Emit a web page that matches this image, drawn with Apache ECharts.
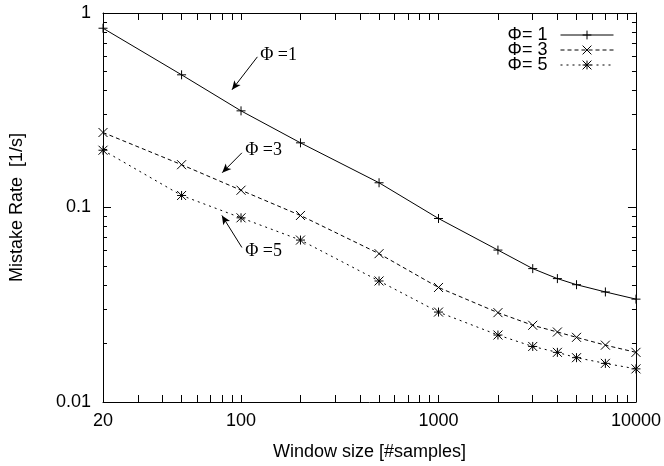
<!DOCTYPE html>
<html>
<head>
<meta charset="utf-8">
<script src="https://cdn.jsdelivr.net/npm/echarts@6/dist/echarts.min.js"></script>
<style>
  html, body { margin: 0; padding: 0; background: #fff; }
  #main { width: 664px; height: 466px; }
</style>
</head>
<body>
<div id="main"></div>
<script>
// window sizes [#samples]
const windowSizes = [20, 50, 100, 200, 500, 1000, 2000, 3000, 4000, 5000, 7000, 10000];
// mistake rate [1/s] per phi
const phi1 = [0.835, 0.481, 0.314, 0.215, 0.134, 0.0878, 0.0604, 0.0485, 0.0431, 0.0401, 0.0368, 0.0338];
const phi3 = [0.243, 0.166, 0.1227, 0.091, 0.0579, 0.0388, 0.0288, 0.0248, 0.0229, 0.0215, 0.0196, 0.018];
const phi5 = [0.197, 0.1153, 0.0885, 0.068, 0.0419, 0.029, 0.0221, 0.0193, 0.018, 0.0169, 0.0158, 0.0148];

const seriesNames = ['Φ= 1', 'Φ= 3', 'Φ= 5'];
const noteTexts = ['Φ =1', 'Φ =3', 'Φ =5'];

// tick labels / tick positions
const xLabelValues = [20, 100, 1000, 10000];
const xTickValues = [20, 30, 40, 50, 60, 70, 80, 90, 100,
  200, 300, 400, 500, 600, 700, 800, 900, 1000,
  2000, 3000, 4000, 5000, 6000, 7000, 8000, 9000, 10000];
const yMajorValues = [0.01, 0.1, 1];
const yMinorValues = [0.02, 0.03, 0.04, 0.05, 0.06, 0.07, 0.08, 0.09,
  0.2, 0.3, 0.4, 0.5, 0.6, 0.7, 0.8, 0.9];

const SANS = 'Liberation Sans';
const SERIF = 'Liberation Serif';

// gnuplot style point types
const PLUS = 'path://M5,0 L5,10 M0,5 L10,5';
const CROSS = 'path://M0,0 L10,10 M10,0 L0,10';
const STAR = 'path://M5,0 L5,10 M0,5 L10,5 M0,0 L10,10 M10,0 L0,10';

function pairs(ys) {
  return windowSizes.map((x, i) => [x, ys[i]]);
}

function fmt(v) {
  return String(+(+v).toPrecision(6));
}

// arrow + text annotation, placed in data coordinates
function note(text, textAt, from, to) {
  return {
    markLine: {
      silent: true,
      symbol: ['none', 'arrow'],
      symbolSize: [6, 9],
      lineStyle: { color: '#000', width: 1, type: 'solid' },
      label: { show: false },
      data: [[{ coord: from }, { coord: to }]]
    },
    markPoint: {
      silent: true,
      symbol: 'circle',
      symbolSize: 0,
      label: {
        show: true, position: 'right', distance: 0, formatter: text,
        fontFamily: SERIF, fontSize: 18, color: '#000'
      },
      data: [{ coord: textAt }]
    }
  };
}

function xAxisOf(pos, show) {
  return {
    type: 'log', logBase: 10, min: 20, max: 10000, position: pos,
    axisLine: { show: true, lineStyle: { color: '#000', width: 1 } },
    axisTick: { show: true, inside: true, length: 7, customValues: xTickValues, lineStyle: { color: '#000' } },
    axisLabel: {
      show: show, customValues: xLabelValues, formatter: fmt, margin: 10,
      fontFamily: SANS, fontSize: 18, color: '#000'
    },
    splitLine: { show: false },
    name: show ? 'Window size [#samples]' : '',
    nameLocation: 'middle', nameGap: 41,
    nameTextStyle: { fontFamily: SANS, fontSize: 18, color: '#000' }
  };
}

function yAxisOf(pos, major, show) {
  return {
    type: 'log', logBase: 10, min: 0.01, max: 1, position: pos,
    axisLine: { show: major, lineStyle: { color: '#000', width: 1 } },
    axisTick: {
      show: true, inside: true, length: major ? 8 : 4,
      customValues: major ? yMajorValues : yMinorValues, lineStyle: { color: '#000' }
    },
    axisLabel: {
      show: show, customValues: yMajorValues, formatter: fmt, margin: 12,
      fontFamily: SANS, fontSize: 18, color: '#000'
    },
    splitLine: { show: false },
    name: show ? 'Mistake Rate  [1/s]' : '',
    nameLocation: 'middle', nameGap: 77,
    nameTextStyle: { fontFamily: SANS, fontSize: 18, color: '#000' }
  };
}

const chart = echarts.init(document.getElementById('main'));
chart.setOption({
  animation: false,
  backgroundColor: '#fff',
  grid: { left: 103, right: 28, top: 13, bottom: 63 },
  legend: {
    right: 45, top: 21, orient: 'vertical', align: 'right',
    itemWidth: 53, itemHeight: 11, itemGap: -3,
    lineStyle: { width: 1 },
    itemStyle: { borderWidth: 1 },
    textStyle: { fontFamily: SANS, fontSize: 18, color: '#000', lineHeight: 16, padding: [0, 8, 0, 0] },
    data: seriesNames
  },
  xAxis: [xAxisOf('bottom', true), xAxisOf('top', false)],
  yAxis: [yAxisOf('left', true, true), yAxisOf('left', false, false),
          yAxisOf('right', true, false), yAxisOf('right', false, false)],
  series: [
    Object.assign({
      name: seriesNames[0], type: 'line', data: pairs(phi1),
      symbol: PLUS, symbolSize: 9,
      lineStyle: { color: '#000', width: 1, type: 'solid' },
      itemStyle: { color: '#000', borderColor: '#000', borderWidth: 1 }
    }, note(noteTexts[0], [125, 0.609], [121, 0.595], [90, 0.403])),
    Object.assign({
      name: seriesNames[1], type: 'line', data: pairs(phi3),
      symbol: CROSS, symbolSize: 9,
      lineStyle: { color: '#000', width: 1, type: [4, 3] },
      itemStyle: { color: '#000', borderColor: '#000', borderWidth: 1 }
    }, note(noteTexts[1], [105, 0.198], [101, 0.191], [80.3, 0.151])),
    Object.assign({
      name: seriesNames[2], type: 'line', data: pairs(phi5),
      symbol: STAR, symbolSize: 9,
      lineStyle: { color: '#000', width: 1, type: [2, 4] },
      itemStyle: { color: '#000', borderColor: '#000', borderWidth: 1 }
    }, note(noteTexts[2], [105, 0.0595], [101, 0.0623], [80, 0.091]))
  ]
});
</script>
</body>
</html>
